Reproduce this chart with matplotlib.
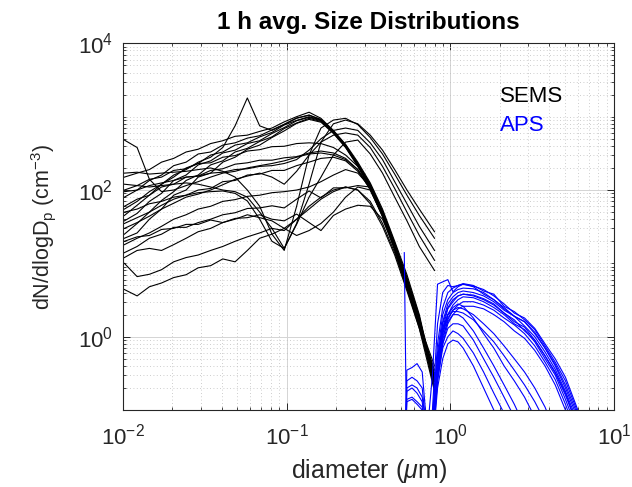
import matplotlib
matplotlib.use("Agg")
import matplotlib.pyplot as plt
from matplotlib.ticker import FixedLocator, LogFormatterMathtext, NullFormatter

plt.rcParams['font.family'] = ['Liberation Sans', 'DejaVu Sans']
plt.rcParams['mathtext.fontset'] = 'custom'
plt.rcParams['mathtext.rm'] = 'Liberation Sans'
plt.rcParams['mathtext.it'] = 'Liberation Sans:italic'
plt.rcParams['mathtext.bf'] = 'Liberation Sans:bold'

# ---------------- SEMS (black) ----------------
sems_d = [0.0102, 0.0122, 0.0145, 0.0172, 0.0204, 0.0243, 0.0288, 0.0343, 0.0407, 0.0484,
          0.0575, 0.0684, 0.0813, 0.0966, 0.115, 0.137, 0.162, 0.193, 0.229, 0.272,
          0.324, 0.385, 0.457, 0.543, 0.646, 0.80]

sems_a1 = [150, 170, 190, 240, 270, 330, 360, 430, 470, 540, 560, 630, 700, 850, 1000, 1150, 950, 650, 420, 240, 125, 55, 20, 7.0, 2.0, 0.25]
sems_a2 = [80, 100, 135, 160, 215, 240, 310, 330, 410, 440, 510, 550, 660, 790, 960, 1050, 920, 640, 410, 230, 120, 52, 19, 6.5, 1.9, 0.22]
sems_a3 = [45, 62, 85, 120, 150, 200, 230, 300, 330, 410, 440, 530, 610, 770, 890, 1000, 900, 620, 400, 225, 118, 50, 18, 6.0, 1.7, 0.2]
sems_a4 = [38, 48, 70, 90, 135, 160, 220, 250, 320, 350, 430, 470, 590, 710, 880, 980, 880, 610, 390, 220, 112, 48, 17, 5.5, 1.6, 0.3]
sems_a5 = [25, 35, 50, 72, 95, 135, 160, 220, 250, 330, 370, 460, 530, 690, 820, 950, 860, 600, 385, 215, 108, 45, 16, 5.0, 1.5, 0.35]
sems_a6 = [22, 26, 40, 55, 85, 100, 150, 170, 240, 280, 360, 410, 520, 640, 810, 920, 840, 590, 380, 210, 105, 43, 15, 4.6, 1.3, 0.18]
sems_m1 = [100, 115, 140, 150, 185, 195, 230, 235, 280, 295, 340, 355, 390, 395, 430, 440, 430, 380, 300, 210, 118, 50, 18, 6.0, 1.8, 0.3]
sems_m2 = [60, 75, 85, 110, 120, 150, 155, 185, 195, 225, 235, 255, 255, 275, 285, 320, 340, 320, 270, 190, 110, 47, 17, 5.5, 1.7, 0.28]
sems_m3 = [35, 42, 50, 62, 75, 85, 100, 105, 130, 135, 160, 165, 185, 185, 215, 240, 270, 280, 250, 180, 105, 45, 16, 5.0, 1.5, 0.4]
sems_l1 = [20, 23, 24, 29, 30, 34, 34, 39, 36, 41, 42, 46, 40, 38, 47, 36, 28, 45, 55, 62, 60, 40, 16, 5.0, 1.5, 0.2]
sems_l2 = [14, 17, 22, 25, 31, 31, 36, 40, 46, 49, 56, 57, 61, 57, 75, 97, 78, 107, 107, 115, 110, 50, 18, 5.5, 1.6, 0.25]
sems_pk = [55, 70, 95, 120, 160, 190, 240, 280, 380, 750, 1800, 750, 650, 780, 950, 1050, 900, 630, 400, 225, 115, 50, 18, 6.0, 1.8, 0.25]
sems_hi = [480, 380, 140, 95, 100, 115, 130, 150, 170, 180, 200, 215, 230, 250, 280, 310, 320, 300, 260, 190, 100, 44, 16, 5.0, 1.5, 0.3]
sems_lo1 = [4.4, 3.6, 4.8, 5.4, 6.4, 7.0, 8.7, 9.3, 11.5, 10.5, 15, 22, 25, 30, 40, 55, 75, 95, 110, 100, 70, 35, 14, 4.5, 1.4, 0.3]
sems_lo2 = [10, 6.6, 7.1, 8.2, 10.5, 12, 13, 15, 17, 20, 23, 26, 30, 28, 40, 60, 80, 100, 110, 100, 65, 32, 13, 4.2, 1.3, 0.25]
sems_lo3 = [12, 15, 16, 15, 18, 22, 27, 30, 36, 40, 46, 42, 38, 30, 24, 28, 35, 50, 80, 110, 100, 45, 16, 5.0, 1.5, 0.2]
sems_lo4 = [18, 22, 26, 32, 40, 46, 55, 60, 70, 74, 82, 85, 92, 95, 100, 110, 130, 160, 190, 170, 110, 48, 17, 5.5, 1.6, 0.3]
sems_b1 = [120, 115, 110, 115, 120, 125, 120, 110, 100, 95, 80, 50, 30, 16, 35, 120, 450, 800, 900, 800, 560, 350, 190, 100, 55, 27]
sems_b2 = [170, 175, 165, 170, 175, 180, 190, 200, 180, 150, 100, 60, 25, 15, 60, 300, 700, 900, 950, 780, 520, 310, 165, 85, 45, 22]
sems_b3 = [95, 100, 115, 125, 135, 150, 155, 170, 175, 190, 195, 210, 215, 230, 260, 350, 500, 650, 700, 650, 440, 260, 130, 65, 32, 15]
sems_b4 = [30, 36, 44, 55, 66, 80, 88, 100, 118, 140, 155, 170, 150, 120, 180, 300, 450, 560, 600, 560, 380, 210, 105, 50, 24, 11]
sems_b5 = [50, 55, 65, 70, 80, 85, 92, 95, 97, 90, 71, 40, 20, 16, 34, 80, 150, 300, 450, 480, 310, 170, 80, 38, 17, 8]

sems_series = [sems_a1, sems_a2, sems_a3, sems_a4, sems_a5, sems_a6, sems_m1, sems_m2,
               sems_m3, sems_l1, sems_l2, sems_pk, sems_hi, sems_lo1, sems_lo2, sems_lo3,
               sems_lo4, sems_b1, sems_b2, sems_b3, sems_b4, sems_b5]

# ---------------- APS (blue) ----------------
aps_d = [0.523, 0.542, 0.583, 0.626, 0.673, 0.723, 0.777, 0.835, 0.898, 0.965, 1.037,
         1.114, 1.197, 1.382, 1.596, 1.843, 2.129, 2.458, 2.839, 3.278, 3.786, 4.371,
         5.048, 5.829, 6.732]

aps_e = [0.01, 0.20, 0.22, 0.20, 0.15, 0.05, 0.3, 5.2, 5.6, 6.0, 4.1, 4.8, 5.2, 4.8, 3.8, 3.2, 2.4, 1.9, 1.6, 1.1, 0.70, 0.40, 0.20, 0.09, 0.03]
aps_t1 = [0.01, 0.35, 0.38, 0.43, 0.33, 0.05, 0.1, 1.5, 4.0, 5.0, 4.8, 5.0, 5.3, 5.0, 4.2, 3.8, 2.6, 2.2, 1.7, 1.25, 0.75, 0.45, 0.25, 0.11, 0.04]
aps_t2 = [0.01, 0.01, 0.01, 0.01, 0.01, 0.01, 0.08, 0.8, 2.5, 4.0, 4.6, 5.0, 5.2, 4.9, 4.4, 3.6, 2.8, 2.1, 1.8, 1.3, 0.80, 0.50, 0.28, 0.12, 0.05]
aps_t3 = [0.01, 0.25, 0.28, 0.25, 0.20, 0.04, 0.06, 0.6, 2.0, 3.2, 4.0, 4.4, 4.6, 4.5, 4.0, 3.2, 2.5, 1.9, 1.6, 1.15, 0.70, 0.42, 0.22, 0.10, 0.04]
aps_t4 = [0.01, 0.01, 0.01, 0.01, 0.01, 0.01, 0.05, 0.5, 1.6, 2.8, 3.5, 4.0, 4.2, 4.0, 3.6, 3.0, 2.3, 1.9, 1.4, 1.0, 0.62, 0.36, 0.18, 0.08, 0.03]
aps_t5 = [0.01, 0.18, 0.20, 0.17, 0.13, 0.03, 0.05, 0.4, 1.3, 2.4, 3.0, 3.6, 3.8, 3.7, 3.3, 2.8, 2.1, 1.6, 1.35, 0.90, 0.55, 0.32, 0.16, 0.07, 0.02]
aps_t6 = [0.01, 0.01, 0.01, 0.01, 0.01, 0.01, 0.04, 0.35, 1.1, 2.0, 2.7, 3.2, 3.5, 3.4, 3.0, 2.5, 2.0, 1.5, 1.25, 0.85, 0.50, 0.30, 0.14, 0.06, 0.02]
aps_t7 = [0.01, 0.01, 0.01, 0.01, 0.01, 0.01, 0.04, 0.3, 0.9, 1.7, 2.3, 2.7, 3.0, 3.0, 2.7, 2.3, 1.8, 1.45, 1.1, 0.75, 0.45, 0.26, 0.12, 0.05, 0.02]
aps_t8 = [0.01, 0.14, 0.15, 0.13, 0.11, 0.03, 0.04, 0.25, 0.8, 1.5, 2.0, 2.4, 2.6, 2.6, 2.4, 2.0, 1.6, 1.2, 0.95, 0.65, 0.40, 0.22, 0.10, 0.04, 0.01]
aps_v = [14, 0.02, 0.02, 0.02, 0.02, 0.02, 0.04, 0.5, 1.5, 2.5, 3.2, 3.6, 3.8, 3.6, 3.2, 2.7, 2.1, 1.7, 1.2, 0.90, 0.55, 0.33, 0.17, 0.07, 0.02]
aps_l1 = [0.01, 0.01, 0.01, 0.01, 0.01, 0.01, 0.05, 0.4, 1.2, 2.0, 2.5, 2.8, 2.6, 1.8, 1.1, 0.70, 0.40, 0.25, 0.15, 0.08, 0.03, 0.01, 0.01, 0.01, 0.01]
aps_l2 = [0.01, 0.01, 0.01, 0.01, 0.01, 0.01, 0.04, 0.35, 1.0, 1.6, 2.0, 2.0, 1.8, 1.2, 0.70, 0.40, 0.22, 0.12, 0.06, 0.02, 0.01, 0.01, 0.01, 0.01, 0.01]
aps_l3 = [0.01, 0.13, 0.14, 0.12, 0.10, 0.03, 0.04, 0.3, 0.8, 1.3, 1.5, 1.5, 1.4, 0.90, 0.50, 0.28, 0.15, 0.08, 0.03, 0.01, 0.01, 0.01, 0.01, 0.01, 0.01]
aps_l4 = [0.01, 0.01, 0.01, 0.01, 0.01, 0.01, 0.03, 0.25, 0.7, 1.0, 1.2, 1.1, 0.95, 0.60, 0.33, 0.17, 0.09, 0.04, 0.01, 0.01, 0.01, 0.01, 0.01, 0.01, 0.01]
aps_l5 = [0.01, 0.01, 0.01, 0.01, 0.01, 0.01, 0.03, 0.2, 0.5, 0.8, 0.9, 0.85, 0.70, 0.40, 0.20, 0.10, 0.05, 0.01, 0.01, 0.01, 0.01, 0.01, 0.01, 0.01, 0.01]
aps_l6 = [0.01, 0.01, 0.01, 0.01, 0.01, 0.01, 0.05, 0.45, 1.3, 2.0, 2.2, 2.2, 2.1, 1.7, 1.2, 0.85, 0.55, 0.35, 0.22, 0.13, 0.07, 0.03, 0.01, 0.01, 0.01]
aps_l7 = [0.01, 0.01, 0.01, 0.01, 0.01, 0.01, 0.04, 0.4, 1.1, 1.8, 2.3, 2.5, 2.4, 2.0, 1.5, 1.1, 0.75, 0.50, 0.33, 0.20, 0.11, 0.05, 0.02, 0.01, 0.01]

aps_series = [aps_e, aps_t1, aps_t2, aps_t3, aps_t4, aps_t5, aps_t6, aps_t7, aps_t8,
              aps_v, aps_l1, aps_l2, aps_l3, aps_l4, aps_l5, aps_l6, aps_l7]

x_major = [0.01, 0.1, 1, 10]
y_major = [1, 100, 10000]
legend_labels = ['SEMS', 'APS']
title_text = '1 h avg. Size Distributions'
xlabel_text = r'diameter ($\mu$m)'
ylabel_text = r'dN/dlogD$_\mathregular{p}$ (cm$^{-3}$)'

fig = plt.figure(figsize=(6.32, 4.87), dpi=100)
ax = fig.add_axes([0.1946, 0.158, 0.777, 0.753])

for s in sems_series:
    ax.plot(sems_d, s, color='black', lw=0.8)
for s in aps_series:
    ax.plot(aps_d, s, color=(0, 0, 1), lw=0.8)

ax.set_xscale('log')
ax.set_yscale('log')
ax.set_xlim(0.01, 10)
ax.set_ylim(0.1, 1e4)

ax.xaxis.set_major_locator(FixedLocator(x_major))
ax.yaxis.set_major_locator(FixedLocator(y_major))
xminor = [m * 10.0 ** e for e in range(-2, 1) for m in range(2, 10)]
yminor = [m * 10.0 ** e for e in range(-1, 4) for m in range(1, 10) if not (m == 1 and e % 2 == 0)]
ax.xaxis.set_minor_locator(FixedLocator(xminor))
ax.yaxis.set_minor_locator(FixedLocator(yminor))
ax.xaxis.set_major_formatter(LogFormatterMathtext())
ax.yaxis.set_major_formatter(LogFormatterMathtext())
ax.xaxis.set_minor_formatter(NullFormatter())
ax.yaxis.set_minor_formatter(NullFormatter())

ax.grid(which='major', color='#d4d4d4', lw=0.7, ls='-')
ax.grid(which='minor', color='#bdbdbd', lw=0.6, ls=(0, (1, 3)))
ax.set_axisbelow(True)

for sp in ax.spines.values():
    sp.set_color('#262626')
    sp.set_linewidth(0.8)
ax.tick_params(which='both', direction='in', top=True, right=True, colors='#262626')
ax.tick_params(axis='x', which='major', pad=10)
ax.tick_params(axis='y', which='major', pad=7)
ax.tick_params(which='major', length=5, width=0.7, labelsize=16, labelcolor='#262626')
ax.tick_params(which='minor', length=2.5, width=0.6)

ax.set_title(title_text, fontsize=17.5, fontweight='bold', pad=10)
ax.set_xlabel(xlabel_text, fontsize=18, color='#262626', va='center')
ax.set_ylabel(ylabel_text, fontsize=15.5, color='#262626', va='center')
ax.xaxis.set_label_coords(0.5, -0.165)
ax.yaxis.set_label_coords(-0.161, 0.5)

ax.text(0.768, 0.855, legend_labels[0], transform=ax.transAxes, color='black',
        fontsize=16, va='center', ha='left')
ax.text(0.768, 0.777, legend_labels[1], transform=ax.transAxes, color=(0, 0, 1),
        fontsize=16, va='center', ha='left')

fig.savefig('out.png', dpi=100)
